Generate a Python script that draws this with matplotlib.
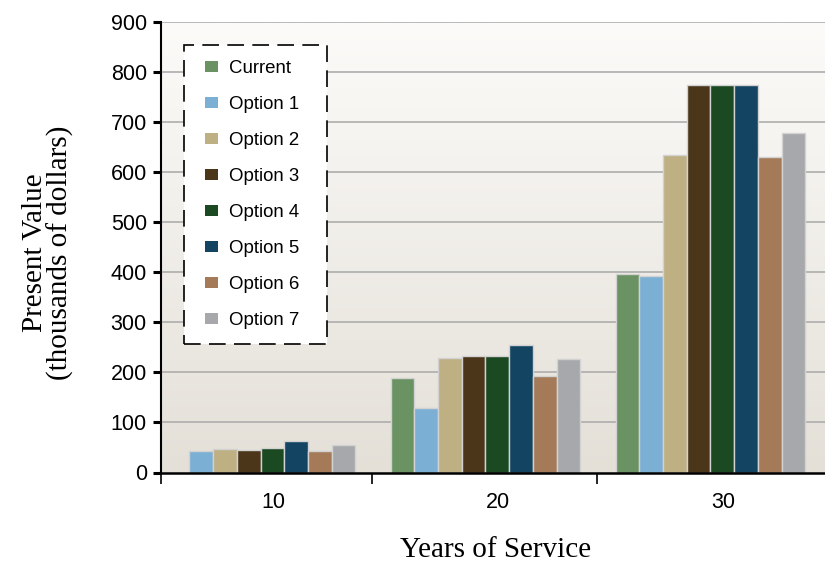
import numpy as np
import matplotlib
matplotlib.use("Agg")
import matplotlib.pyplot as plt
from matplotlib.patches import Rectangle

# Present value by years of service for each retirement plan option
years = ["10", "20", "30"]
series = ["Current", "Option 1", "Option 2", "Option 3",
          "Option 4", "Option 5", "Option 6", "Option 7"]
current = [0, 188, 396]
option1 = [43, 129, 393]
option2 = [46, 229, 634]
option3 = [45, 233, 775]
option4 = [49, 233, 775]
option5 = [62, 255, 775]
option6 = [42, 192, 631]
option7 = [55, 226, 678]
values = [current, option1, option2, option3, option4, option5, option6, option7]

colors = ["#6a9262", "#7bb0d4", "#bfb083", "#4b361a",
          "#1b4a22", "#134563", "#a57a58", "#a7a8ab"]
yticks = [0, 100, 200, 300, 400, 500, 600, 700, 800, 900]

sans = "Liberation Sans"
serif = "Liberation Serif"

fig = plt.figure(figsize=(8.25, 5.67), dpi=100)
ax = fig.add_axes([160.7 / 825, 1 - 472.5 / 567, (825 - 160.7) / 825, 450.5 / 567])

# soft vertical gradient behind the plot area
grad = np.linspace(0, 1, 256).reshape(-1, 1)
top_c = np.array([252, 251, 249]) / 255
bot_c = np.array([228, 224, 216]) / 255
img = top_c * (1 - grad[..., None]) + bot_c * grad[..., None]
img = img.reshape(256, 1, 3)
ax.imshow(img, extent=(0, 1, 0, 1), transform=ax.transAxes, aspect="auto",
          zorder=0, interpolation="bilinear")

x = np.arange(len(years))
n = len(series)
width = 0.1053
for i, (name, vals, col) in enumerate(zip(series, values, colors)):
    offs = (i - (n - 1) / 2) * width
    bars = ax.bar(x + offs, vals, width=width, color=col, edgecolor="#d2d2d2",
                  linewidth=1.0, label=name, zorder=2)
    # a zero-height bar should leave no outline on the baseline
    for b, v in zip(bars, vals):
        if v == 0:
            b.set_linewidth(0)

ax.set_xlim(-0.4436, 2.509)
ax.set_ylim(0, 900)

for yv in yticks[1:]:
    ax.axhline(yv, color="#adadad", linewidth=1.2, zorder=1)

ax.set_yticks(yticks)
ax.set_yticklabels([str(v) for v in yticks], fontsize=15.5, family=sans)
ax.tick_params(axis="y", direction="out", length=6, width=2.2, pad=4)

# group labels centred under each cluster, boundary ticks between clusters
ax.set_xticks(x + 0.056)
ax.set_xticklabels(years, fontsize=15.5, family=sans)
ax.tick_params(axis="x", which="major", length=0, pad=14)
ax.set_xticks([-0.4436, 0.494, 1.494], minor=True)
ax.tick_params(axis="x", which="minor", direction="out", length=8, width=1.2)

for s in ["top", "right"]:
    ax.spines[s].set_visible(False)
ax.spines["left"].set_linewidth(1.5)
ax.spines["bottom"].set_linewidth(1.8)
for s in ["left", "bottom"]:
    ax.spines[s].set_zorder(3)

fig.text(48 / 825, 1 - 253 / 567, "Present Value\n(thousands of dollars)",
         rotation=90, ha="center", va="center", fontsize=21, family=serif,
         linespacing=0.95)
fig.text(495.5 / 825, 1 - 550 / 567, "Years of Service", ha="center",
         va="center", fontsize=21, family=serif)

# dashed legend panel
ax.add_patch(Rectangle((0.0355, 0.2852), 0.2499 - 0.0355, 0.949 - 0.2852,
                       transform=ax.transAxes, facecolor="white",
                       edgecolor="black", linewidth=1.2, linestyle=(0, (10, 5)),
                       zorder=4))
leg = ax.legend(loc="upper left", bbox_to_anchor=(0.0667, 0.9152), frameon=False,
                borderpad=0, borderaxespad=0, handlelength=0.7, handleheight=0.575,
                handletextpad=0.59, labelspacing=1.02,
                prop={"family": sans, "size": 13.4})
leg.set_zorder(5)
for h, col in zip(leg.legend_handles, colors):
    h.set_visible(True)
    h.set_facecolor(col)
    h.set_edgecolor("none")

fig.savefig("out.png", dpi=100)
